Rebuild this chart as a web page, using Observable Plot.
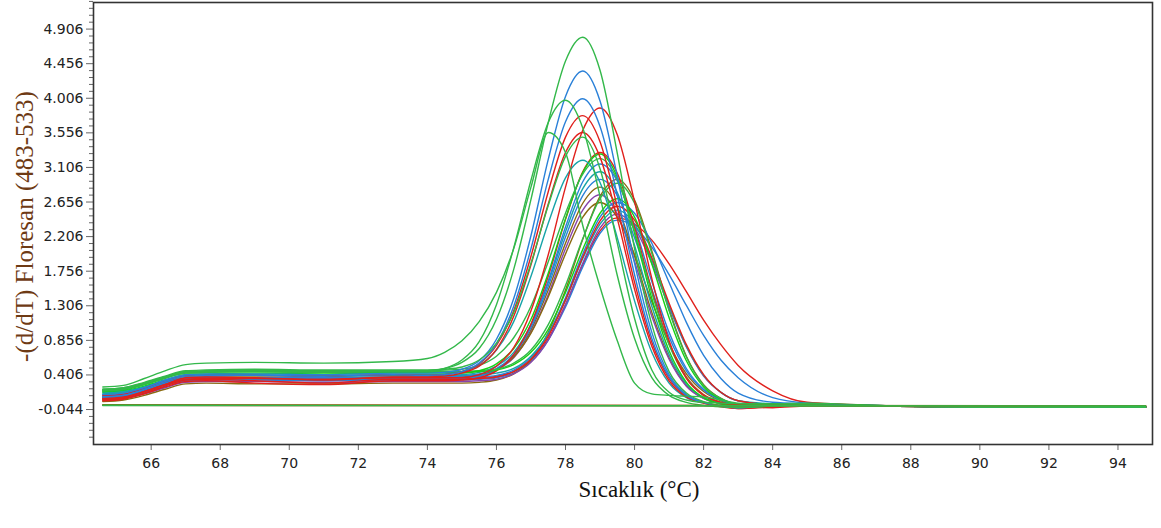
<!DOCTYPE html>
<html><head><meta charset="utf-8">
<script src="https://cdn.jsdelivr.net/npm/d3@7"></script>
<script src="https://cdn.jsdelivr.net/npm/@observablehq/plot@0.6"></script>
<style>html,body{margin:0;padding:0;background:#fff;} #chart{width:1161px;height:528px;}</style>
</head><body><div id="chart"></div>
<script>
// Temperature grid (°C) shared by the melt curves
const temps = [64.6, 65.2, 65.8, 66.4, 67.0, 67.6, 69, 71, 73, 74, 74.5, 75, 75.5, 76, 76.5, 77, 77.5, 78, 78.5, 79, 79.5, 80, 80.5, 81, 81.5, 82, 82.5, 83, 84, 85, 87, 90, 94.8];

// -(d/dT) fluorescence values
const c1  = [0.20,0.22,0.29,0.38,0.44,0.45,0.46,0.45,0.46, 0.46,0.49,0.57,0.75,1.13,1.78,2.69,3.69,4.49,4.80, 4.37,3.29,2.05,1.06,0.45,0.17,0.06,0.01,-0.01, 0.00,0.01,0.00,-0.01,-0.01];
const c2  = [0.15,0.17,0.24,0.34,0.41,0.42,0.42,0.41,0.43, 0.43,0.44,0.48,0.59,0.87,1.40,2.22,3.21,4.03,4.36, 3.97,2.99,1.86,0.96,0.41,0.15,0.05,0.00,-0.02, 0.01,0.02,0.00,-0.01,-0.01];
const c3  = [0.22,0.24,0.30,0.37,0.43,0.44,0.45,0.44,0.45, 0.45,0.49,0.60,0.84,1.32,2.06,2.94,3.69,3.98, 3.62,2.73,1.70,0.88,0.37,0.14,0.05,0.01,-0.01,-0.02, 0.00,0.01,0.00,-0.01,-0.01];
const c4  = [0.12,0.14,0.22,0.32,0.39,0.40,0.40,0.39,0.41, 0.40,0.41,0.45,0.56,0.81,1.30,2.05,2.95,3.70,4.00, 3.64,2.74,1.71,0.88,0.38,0.14,0.05,0.00,-0.02, 0.01,0.01,0.00,-0.01,-0.01];
const c5  = [0.10,0.12,0.19,0.28,0.35,0.36,0.36,0.35,0.37, 0.37,0.37,0.37,0.41,0.52,0.76,1.24,1.97,2.85,3.59,3.88, 3.53,2.66,1.66,0.85,0.36,0.14,0.05,0.02, 0.00,0.01,0.00,-0.01,-0.01];
const c6  = [0.14,0.16,0.23,0.32,0.39,0.40,0.40,0.39,0.41, 0.40,0.41,0.45,0.55,0.79,1.24,1.95,2.79,3.50,3.78, 3.44,2.59,1.61,0.83,0.36,0.13,0.05,0.00,-0.03, 0.00,0.01,0.00,-0.01,-0.01];
const c7  = [0.09,0.11,0.19,0.28,0.37,0.38,0.37,0.34,0.38, 0.38,0.39,0.43,0.52,0.74,1.17,1.84,2.63,3.30,3.56, 3.24,2.44,1.52,0.78,0.33,0.12,0.04,-0.01,-0.03, -0.01,0.01,0.00,-0.01,-0.01];
const c8  = [0.25,0.27,0.36,0.46,0.54,0.56,0.57,0.56,0.58, 0.62,0.70,0.85,1.10,1.48,2.05,2.85,3.56, 3.30,2.35,1.55,0.85,0.30,0.16,0.14,0.13,0.12,0.08,0.04, 0.02,0.01,0.00,-0.01,-0.01];
const c9  = [0.18,0.20,0.26,0.34,0.41,0.42,0.43,0.42,0.43, 0.43,0.43,0.43,0.46,0.55,0.75,1.13,1.73,2.44,3.04,3.28, 2.98,2.25,1.40,0.72,0.31,0.11,0.03,-0.01, 0.01,0.02,0.00,-0.01,-0.01];
const c10 = [0.21,0.23,0.30,0.38,0.45,0.46,0.47,0.46,0.46, 0.46,0.47,0.48,0.53,0.65,0.89,1.30,1.88,2.51,3.02,3.22, 2.95,2.28,1.47,0.80,0.37,0.14,0.05,0.01, 0.02,0.03,0.00,-0.01,-0.01];
const c11 = [0.16,0.18,0.24,0.33,0.39,0.40,0.40,0.39,0.40, 0.40,0.40,0.41,0.44,0.52,0.70,1.06,1.61,2.27,2.83,3.05, 2.78,2.09,1.30,0.67,0.29,0.11,0.04,0.01, 0.03,0.02,0.00,-0.01,-0.01];
const c12 = [0.12,0.14,0.21,0.30,0.37,0.38,0.37,0.37,0.38, 0.38,0.38,0.39,0.42,0.49,0.67,1.02,1.56,2.20,2.74,2.95, 2.74,2.19,1.52,0.90,0.46,0.21,0.08,0.03, 0.03,0.02,0.00,-0.01,-0.01];
const c13 = [0.11,0.13,0.20,0.29,0.36,0.37,0.36,0.36,0.37, 0.37,0.37,0.38,0.40,0.48,0.65,0.99,1.51,2.12,2.64,2.85, 2.59,1.95,1.22,0.63,0.27,0.10,0.03,0.00, 0.02,0.02,0.00,-0.01,-0.01];
const c14 = [0.10,0.12,0.19,0.28,0.35,0.36,0.35,0.35,0.36, 0.36,0.36,0.37,0.39,0.47,0.63,0.96,1.45,2.05,2.55,2.75, 2.50,1.88,1.17,0.61,0.26,0.10,0.03,-0.01, 0.00,0.01,0.00,-0.01,-0.01];
const c15 = [0.08,0.10,0.17,0.26,0.34,0.35,0.33,0.30,0.35, 0.35,0.35,0.35,0.36,0.38,0.45,0.61,0.91,1.38,1.94,2.41,2.60, 2.42,1.93,1.34,0.80,0.41,0.18,0.07, 0.02,0.02,0.00,-0.01,-0.01];
const c16 = [0.20,0.22,0.28,0.37,0.43,0.44,0.45,0.44,0.44, 0.44,0.44,0.44,0.45,0.47,0.54,0.70,1.00,1.48,2.04,2.51,2.70, 2.46,1.85,1.15,0.59,0.25,0.09,0.03, 0.03,0.03,0.01,-0.01,-0.01];
const c17 = [0.09,0.11,0.18,0.27,0.33,0.34,0.34,0.33,0.34, 0.34,0.34,0.34,0.35,0.37,0.43,0.58,0.86,1.29,1.81,2.25,2.42, 2.33,2.07,1.71,1.31,0.92,0.60,0.37, 0.11,0.04,0.01,-0.01,-0.01];
const c18 = [0.12,0.14,0.21,0.29,0.35,0.36,0.36,0.35,0.36, 0.36,0.36,0.36,0.37,0.39,0.45,0.60,0.88,1.32,1.84,2.28,2.45, 2.37,2.16,1.85,1.49,1.12,0.80,0.53, 0.20,0.05,0.01,-0.01,-0.01];
const c19 = [0.15,0.17,0.24,0.33,0.39,0.40,0.40,0.39,0.40, 0.40,0.40,0.40,0.41,0.43,0.49,0.65,0.94,1.38,1.92,2.37,2.55, 2.37,1.90,1.31,0.78,0.40,0.18,0.07, 0.03,0.02,0.00,-0.01,-0.01];
const c20 = [0.13,0.15,0.22,0.31,0.37,0.38,0.38,0.37,0.38, 0.38,0.38,0.39,0.41,0.48,0.64,0.95,1.42,1.98,2.46,2.65, 2.46,1.97,1.36,0.81,0.42,0.19,0.07,0.02, 0.02,0.02,0.00,-0.01,-0.01];
const c21 = [0.22,0.24,0.31,0.39,0.46,0.47,0.48,0.47,0.47, 0.47,0.48,0.51,0.60,0.82,1.22,1.86,2.61,3.25,3.50, 3.09,2.12,1.14,0.47,0.18,0.08,0.05,0.04,0.03, 0.02,0.02,0.00,-0.01,-0.01];
const c22 = [0.10,0.12,0.19,0.28,0.34,0.35,0.35,0.34,0.35, 0.35,0.35,0.36,0.39,0.47,0.67,1.05,1.63,2.33,2.92,3.15, 2.93,2.34,1.62,0.96,0.49,0.22,0.09,0.03, 0.02,0.02,0.00,-0.01,-0.01];
const c23 = [0.19,0.21,0.28,0.36,0.44,0.45,0.45,0.44,0.45, 0.45,0.45,0.45,0.46,0.48,0.56,0.73,1.06,1.57,2.18,2.70,2.90, 2.64,1.99,1.24,0.64,0.27,0.10,0.03, 0.03,0.04,0.01,-0.01,-0.01];
const c24 = [0.07,0.09,0.16,0.25,0.32,0.33,0.30,0.28,0.33, 0.33,0.33,0.34,0.37,0.46,0.67,1.07,1.69,2.43,3.05,3.30, 3.03,2.33,1.51,0.82,0.38,0.15,0.05,0.00, -0.02,0.00,0.00,-0.01,-0.01];
const c25 = [0.13,0.15,0.22,0.31,0.36,0.37,0.37,0.36,0.37, 0.37,0.37,0.37,0.38,0.40,0.47,0.63,0.94,1.41,1.98,2.46,2.65, 2.51,2.12,1.61,1.09,0.66,0.36,0.17, 0.05,0.03,0.01,-0.01,-0.01];
const c26 = [0.17,0.19,0.25,0.33,0.40,0.41,0.41,0.40,0.41, 0.41,0.42,0.45,0.53,0.73,1.10,1.69,2.38,2.97,3.20, 2.91,2.19,1.37,0.70,0.30,0.11,0.04,0.01,0.00, 0.02,0.02,0.00,-0.01,-0.01];
const c27 = [0.06,0.08,0.14,0.22,0.29,0.30,0.29,0.29,0.30, 0.30,0.30,0.30,0.31,0.34,0.42,0.60,0.96,1.51,2.17,2.73,2.95, 2.68,2.02,1.26,0.65,0.28,0.10,0.02, 0.00,0.01,0.00,-0.01,-0.01];
const c28 = [0.08,0.10,0.16,0.24,0.31,0.32,0.32,0.31,0.32, 0.32,0.32,0.32,0.33,0.35,0.42,0.57,0.86,1.32,1.86,2.32,2.50, 2.32,1.86,1.29,0.77,0.39,0.18,0.07, 0.02,0.01,0.00,-0.01,-0.01];

// Negative controls (flat)
const negTemps = [64.6, 94.8];
const neg1 = [0.012, 0.002];
const neg2 = [0.016, 0.004];
const neg3 = [0.010, 0.000];
const negNames = ["n1", "n2", "n3"];
const negValues = [neg1, neg2, neg3];

// Series order (drawing order) and palette
const seriesNames = ["c18","c17","c13","c14","c27","c28","c20","c25","c19","c11","c12","c22","c15","c24","c16","c23","c9","c10","c26","c5","c6","c7","c4","c2","c21","c3","c8","c1"];
const seriesValues = [c18,c17,c13,c14,c27,c28,c20,c25,c19,c11,c12,c22,c15,c24,c16,c23,c9,c10,c26,c5,c6,c7,c4,c2,c21,c3,c8,c1];
const seriesColors = ["#e0201c","#2a80d8","#8a6a10","#8844aa","#8a6a10","#8844aa","#8a6a10","#2a80d8","#17a3a8","#17a3a8","#2a80d8","#2a80d8","#e0201c","#e0201c","#14d214","#33b84a","#14d214","#33b84a","#17a3a8","#e0201c","#e0201c","#e0201c","#2a80d8","#2a80d8","#33b84a","#33b84a","#33b84a","#33b84a"];
const negColors = ["#e0201c", "#8a6a10", "#33b84a"];

// Axis ticks and titles
const xTicks = [66, 68, 70, 72, 74, 76, 78, 80, 82, 84, 86, 88, 90, 92, 94];
const yTicks = [-0.044, 0.406, 0.856, 1.306, 1.756, 2.206, 2.656, 3.106, 3.556, 4.006, 4.456, 4.906];
const xTitle = "Sıcaklık (°C)";
const yTitle = "-(d/dT) Floresan (483-533)";

const minorTicks = [];
for (let k = -5; k <= 63; k++) { if (k % 5 !== 0) minorTicks.push(-0.044 + 0.09 * k); }

const rows = seriesNames.flatMap((n, k) => seriesValues[k].map((v, i) => ({series: n, t: temps[i], v})));
const negRows = negNames.flatMap((n, k) => negValues[k].map((v, i) => ({series: n, t: negTemps[i], v})));

const chart = Plot.plot({
  width: 1161, height: 528,
  marginLeft: 93, marginRight: 9, marginTop: 2, marginBottom: 84,
  style: {fontFamily: "DejaVu Sans", fontSize: "14px", background: "#fff", color: "#222"},
  x: {domain: [64.33, 95.0]},
  y: {domain: [-0.499, 5.252]},
  color: {domain: seriesNames.concat(negNames), range: seriesColors.concat(negColors)},
  marks: [
    Plot.axisY({ticks: minorTicks, tickSize: 4, tickFormat: () => "", label: null, stroke: "#666"}),
    Plot.axisY({ticks: yTicks, tickSize: 7, tickPadding: 3, tickFormat: d => d.toFixed(3), label: null, stroke: "#666"}),
    Plot.axisX({ticks: xTicks, tickSize: 6, tickPadding: 8, tickFormat: d => String(d), label: null, stroke: "#666"}),
    Plot.line(rows, {x: "t", y: "v", z: "series", stroke: "series", curve: "monotone-x", strokeWidth: 1.4}),
    Plot.line(negRows, {x: "t", y: "v", z: "series", stroke: "series", strokeWidth: 1.6}),
    Plot.frame({stroke: "#333", strokeWidth: 1.6}),
    Plot.text([xTitle], {text: d => d, frameAnchor: "bottom", dy: 52, dx: 16, fontFamily: "Liberation Serif", fontSize: 23, fill: "#111"}),
    Plot.text([yTitle], {text: d => d, frameAnchor: "left", textAnchor: "middle", rotate: -90, dx: -69, dy: 3, fontFamily: "Liberation Serif", fontSize: 25, fill: "#6e3a14"})
  ]
});
document.getElementById("chart").appendChild(chart);
</script>
</body></html>
